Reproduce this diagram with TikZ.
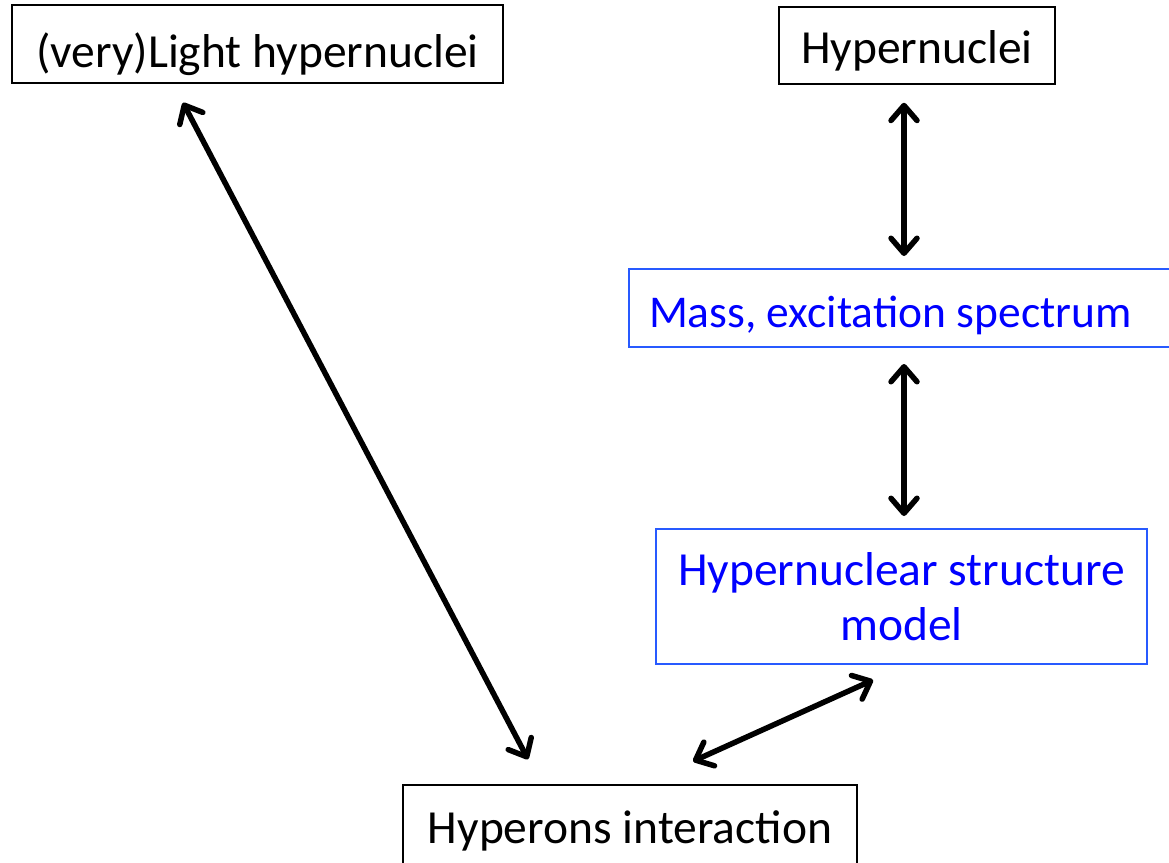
\documentclass[tikz,border=0pt]{standalone}
\usepackage{fontspec}
\setmainfont{Carlito}
\usetikzlibrary{arrows.meta,calc}
\definecolor{bluetext}{RGB}{0,0,255}
\definecolor{blueframe}{RGB}{40,90,255}
\tikzset{
  blackbox/.style={draw=black, line width=1.5pt, inner sep=0pt, align=center, font=\fontsize{47.5}{55}\selectfont},
  bluebox/.style={draw=blueframe, line width=2pt, inner sep=0pt, align=center, text=bluetext, font=\fontsize{47.5}{55}\selectfont},
  barbtip/.tip={Straight Barb[length=15pt,width=26pt,line width=5.5pt,line cap=round,line join=round]},
  arr/.style={line width=5.5pt, barbtip-barbtip}
}
\begin{document}
\begin{tikzpicture}[x=1pt,y=-1pt]
\useasboundingbox (0,0) rectangle (1169,862);
\node[blackbox, minimum width=491pt, minimum height=78pt, text height=46pt, text depth=0pt] (light) at (257.5,44) {(very)Light hypernuclei};
\node[blackbox, minimum width=276pt, minimum height=77pt, text height=35pt, text depth=0pt] (hyp) at (917,45.5) {Hypernuclei};
\node[bluebox, anchor=west, text width=512pt, align=flush left, inner xsep=20pt, minimum height=78pt, text height=38pt, text depth=0pt, font=\fontsize{45.5}{55}\selectfont] (mass) at (628,308) {Mass, excitation spectrum};
\node[bluebox, minimum width=491pt, minimum height=135pt, text height=87pt, text depth=0pt] (struct) at (901.5,596.5) {Hypernuclear structure\\model};
\node[blackbox, minimum width=454pt, minimum height=87pt, text height=30pt, text depth=0pt] (inter) at (630,828.5) {Hyperons interaction};
\draw[arr] ($(light.south)+(-74.5,19)$) -- ($(inter.north)+(-102,-25)$);
\draw[arr] ($(hyp.south)+(-13,18)$) -- ($(hyp.south |- mass.north)+(-13,-12)$);
\draw[arr] ($(hyp.south |- mass.south)+(-13,16)$) -- ($(hyp.south |- struct.north)+(-13,-12)$);
\draw[arr] ($(inter.north)+(63,-23)$) -- ($(struct.south)+(-28.5,15)$);
\end{tikzpicture}
\end{document}
